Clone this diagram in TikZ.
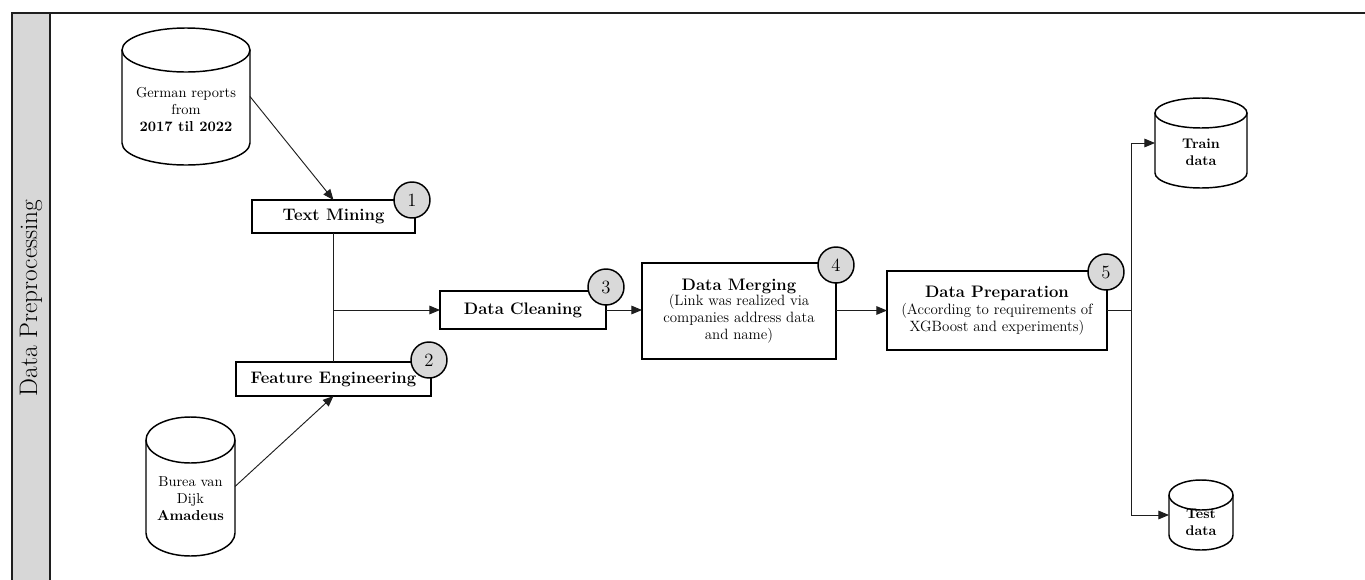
\documentclass[tikz,border=0pt]{standalone}
\usetikzlibrary{arrows.meta}
\definecolor{bandgray}{RGB}{215,215,215}
\definecolor{badgegray}{RGB}{217,217,217}
\definecolor{inkgray}{RGB}{30,30,30}

% database drum: centre x, top y, bottom y, x radius, y radius (all in px units)
\newcommand\drumshape[5]{%
  \fill[white] (#1-#4,-#2-#5) -- (#1-#4,-#3+#5)
     arc[start angle=180, end angle=360, x radius=#4, y radius=#5]
     -- (#1+#4,-#2-#5) arc[start angle=0, end angle=180, x radius=#4, y radius=#5] -- cycle;
  \draw[drumline] (#1,-#2-#5) ellipse [x radius=#4, y radius=#5];
  \draw[drumline] (#1-#4,-#2-#5) -- (#1-#4,-#3+#5)
     arc[start angle=180, end angle=360, x radius=#4, y radius=#5] -- (#1+#4,-#2-#5);
}

\begin{document}
\begin{tikzpicture}[x=0.75pt,y=0.75pt,
  frameline/.style={draw=inkgray, line width=1.6pt},
  drumline/.style={draw=black, line width=1.1pt},
  anchorbox/.style={inner sep=0pt, outer sep=0pt},
  drumtext/.style={align=center, inner sep=0pt,
    font=\fontsize{10.8}{12.75}\selectfont},
  stepbox/.style={draw=black, line width=1.2pt, fill=white, inner sep=0pt,
    outer sep=0pt, align=center, font=\fontsize{11.2}{12.75}\selectfont},
  badge/.style={circle, draw=black, line width=1.1pt, fill=badgegray,
    minimum size=27pt, inner sep=0pt, font=\fontsize{14}{16}\selectfont},
  flow/.style={draw=inkgray, line width=0.7pt},
  arrowflow/.style={flow, -{Triangle[length=8pt, width=6.5pt]}},
  heading/.style={font=\fontsize{12.5}{14}\selectfont\bfseries}
]
\useasboundingbox (0,0) rectangle (1365,-579);

% swimlane frame with grey title band
\fill[bandgray] (12,-13) rectangle (50,-600);
\draw[frameline] (12,-600) -- (12,-13) -- (1380,-13);
\draw[frameline] (50,-13) -- (50,-600);
\node[rotate=90, font=\fontsize{19}{21}\selectfont] (lane) at (31,-298) {Data Preprocessing};

% data sources and results
\drumshape{186}{28}{165}{64}{22}
\node[anchorbox, minimum width=96pt, minimum height=102.75pt] (german) at (186,-96.5) {};
\node[drumtext] (germantext) at (186,-109) {German reports\\from\\\textbf{2017 til 2022}};

\drumshape{190.5}{417}{556}{44.5}{23}
\node[anchorbox, minimum width=66.75pt, minimum height=104.25pt] (amadeus) at (190.5,-486.5) {};
\node[drumtext] (amadeustext) at (190.5,-499) {Burea van\\Dijk\\\textbf{Amadeus}};

\drumshape{1201}{98}{188}{46}{15}
\node[anchorbox, minimum width=69pt, minimum height=67.5pt] (train) at (1201,-143) {};
\node[drumtext, font=\fontsize{10.5}{12.75}\selectfont\bfseries] (traintext) at (1201,-152) {Train\\data};

\drumshape{1201}{480}{550}{32}{15}
\node[anchorbox, minimum width=48pt, minimum height=52.5pt] (test) at (1201,-515) {};
\node[drumtext, font=\fontsize{10.5}{12.75}\selectfont\bfseries] (testtext) at (1201,-522) {Test\\data};

% processing steps
\node[stepbox, minimum width=122.25pt, minimum height=24.75pt] (tm) at (333.5,-216.5)
  {\fontsize{12.5}{14}\selectfont\bfseries Text Mining};
\node[stepbox, minimum width=146.25pt, minimum height=25.5pt] (fe) at (333.5,-379)
  {\fontsize{12.5}{14}\selectfont\bfseries Feature Engineering};
\node[stepbox, minimum width=124.5pt, minimum height=28.5pt] (dc) at (523,-310)
  {\fontsize{12.5}{14}\selectfont\bfseries Data Cleaning};
\node[stepbox, minimum width=145.5pt, minimum height=72pt] (dm) at (739,-311)
  {{\fontsize{12.5}{14}\selectfont\bfseries Data Merging}\\[-1pt]
   (Link was realized via\\companies address data\\and name)};
\node[stepbox, minimum width=165pt, minimum height=59.25pt] (dp) at (997,-310.5)
  {{\fontsize{12.5}{14}\selectfont\bfseries Data Preparation}\\[-0.5pt]
   (According to requirements of\\XGBoost and experiments)};

% step numbers
\node[badge] (b1) at (412,-200) {1};
\node[badge] (b2) at (429,-360) {2};
\node[badge] (b3) at (606,-287) {3};
\node[badge] (b4) at (836,-265) {4};
\node[badge] (b5) at (1106,-272) {5};

% connectors
\draw[arrowflow] (german.east) -- (tm.north);
\draw[arrowflow] (amadeus.east) -- (fe.south);
\draw[flow] (tm.south) -- (fe.north);
\coordinate (join) at (tm.south |- dc.west);
\draw[arrowflow] (join) -- (dc.west);
\draw[arrowflow] (dc.east) -- (dc.east -| dm.west);
\draw[arrowflow] (dm.east |- dp.west) -- (dp.west);
\coordinate (split) at (1131,-310.5);
\draw[flow] (dp.east) -- (split);
\draw[arrowflow] (split) |- (train.west);
\draw[arrowflow] (split) |- (test.west);
\end{tikzpicture}
\end{document}
